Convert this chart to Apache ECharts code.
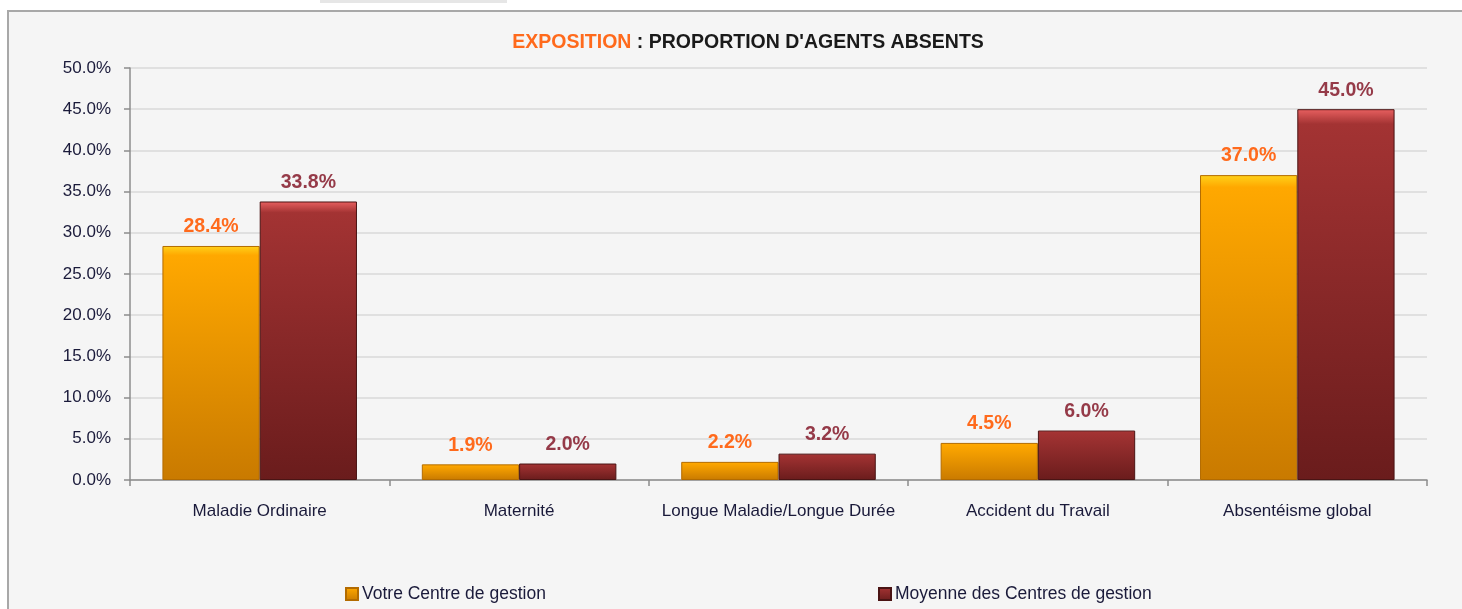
<!DOCTYPE html>
<html>
<head>
<meta charset="utf-8">
<script src="https://cdn.jsdelivr.net/npm/echarts@6/dist/echarts.min.js"></script>
<style>
  html, body { margin: 0; padding: 0; background: #ffffff; }
  #chart { width: 1462px; height: 609px; }
</style>
</head>
<body>
<div id="chart"></div>
<script>
// données
const categories = ['Maladie Ordinaire', 'Maternité', 'Longue Maladie/Longue Durée', 'Accident du Travail', 'Absentéisme global'];
const votreCentre = [28.4, 1.9, 2.2, 4.5, 37.0];
const moyenneCentres = [33.8, 2.0, 3.2, 6.0, 45.0];
const seriesNames = ['Votre Centre de gestion', 'Moyenne des Centres de gestion'];

const chart = echarts.init(document.getElementById('chart'), null, { renderer: 'canvas' });

const fontFamily = '"Liberation Sans", Arial, sans-serif';

const orangeFill = new echarts.graphic.LinearGradient(0, 0, 0, 1, [
    { offset: 0, color: '#ffd21a' },
    { offset: 0.04, color: '#ffa800' },
    { offset: 1, color: '#c97a00' }
]);
const redFill = new echarts.graphic.LinearGradient(0, 0, 0, 1, [
    { offset: 0, color: '#e86060' },
    { offset: 0.04, color: '#a33333' },
    { offset: 1, color: '#6a1c1c' }
]);

chart.setOption({
    backgroundColor: 'transparent',
    animation: false,
    graphic: [
        {
            type: 'rect',
            shape: { x: 320, y: 0, width: 187, height: 3 },
            style: { fill: '#e6e6e6' },
            z: -10
        },
        {
            type: 'rect',
            shape: { x: 8, y: 11, width: 1470, height: 610 },
            style: { fill: '#f5f5f5', stroke: '#a8a8a8', lineWidth: 2 },
            z: -10
        }
    ],
    title: {
        text: '{a|EXPOSITION}{b| : PROPORTION D\'AGENTS ABSENTS}',
        left: 743,
        textAlign: 'center',
        top: 28,
        textStyle: {
            rich: {
                a: { color: '#ff6a1c', fontSize: 19.5, fontWeight: 'bold', fontFamily: fontFamily },
                b: { color: '#1a1a1a', fontSize: 19.5, fontWeight: 'bold', fontFamily: fontFamily }
            }
        }
    },
    legend: [
        {
            data: [seriesNames[0]],
            left: 340,
            top: 580,
            itemWidth: 12,
            itemHeight: 12,
            icon: 'rect',
            textStyle: { fontSize: 17.5, color: '#1a1a3a', fontFamily: fontFamily, padding: [0, 0, 0, -1] }
        },
        {
            data: [seriesNames[1]],
            left: 873,
            top: 580,
            itemWidth: 12,
            itemHeight: 12,
            icon: 'rect',
            textStyle: { fontSize: 17.5, color: '#1a1a3a', fontFamily: fontFamily, padding: [0, 0, 0, -1] }
        }
    ],
    grid: { left: 130, right: 35, top: 68, bottom: 129 },
    xAxis: {
        type: 'category',
        data: categories,
        axisLine: { lineStyle: { color: '#8c8c8c', width: 1.5 } },
        axisTick: { show: true, interval: 0, length: 6, lineStyle: { color: '#8c8c8c', width: 1.5 } },
        axisLabel: { interval: 0, fontSize: 17, color: '#1a1a3a', fontFamily: fontFamily, margin: 23 }
    },
    yAxis: {
        type: 'value',
        min: 0,
        max: 50,
        interval: 5,
        axisLine: { show: true, lineStyle: { color: '#8c8c8c', width: 1.5 } },
        axisTick: { show: true, length: 6, lineStyle: { color: '#8c8c8c', width: 1.5 } },
        splitLine: { lineStyle: { color: '#d9d9d9', width: 1.5 } },
        axisLabel: {
            fontSize: 17,
            color: '#1a1a3a',
            fontFamily: fontFamily,
            margin: 19,
            formatter: v => v.toFixed(1) + '%'
        }
    },
    series: [
        {
            name: seriesNames[0],
            type: 'bar',
            data: votreCentre,
            barGap: '0%',
            barCategoryGap: '25%',
            itemStyle: { color: orangeFill, borderColor: '#b36b00', borderWidth: 1 },
            label: {
                show: true,
                position: 'top',
                distance: 9,
                color: '#ff6a1c',
                fontSize: 19.5,
                fontWeight: 'bold',
                fontFamily: fontFamily,
                formatter: p => p.value.toFixed(1) + '%'
            }
        },
        {
            name: seriesNames[1],
            type: 'bar',
            data: moyenneCentres,
            itemStyle: { color: redFill, borderColor: '#4a1414', borderWidth: 1 },
            label: {
                show: true,
                position: 'top',
                distance: 9,
                color: '#953a48',
                fontSize: 19.5,
                fontWeight: 'bold',
                fontFamily: fontFamily,
                formatter: p => p.value.toFixed(1) + '%'
            }
        }
    ]
});
</script>
</body>
</html>
